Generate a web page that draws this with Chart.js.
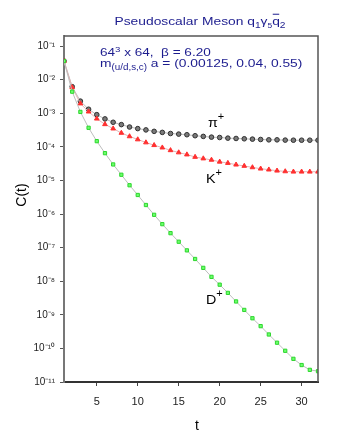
<!DOCTYPE html>
<html>
<head>
<meta charset="utf-8">
<script src="https://cdn.jsdelivr.net/npm/chart.js@4/dist/chart.umd.min.js"></script>
<style>
html,body{margin:0;padding:0;background:#fff;}
canvas{display:block;}
</style>
</head>
<body>
<canvas id="c" width="354" height="436"></canvas>
<script>
// ---- data ----
const tValues = [1,2,3,4,5,6,7,8,9,10,11,12,13,14,15,16,17,18,19,20,21,22,23,24,25,26,27,28,29,30,31,32];
const pionC = [3.6e-2,6.2e-3,2.3e-3,1.32e-3,9.1e-4,6.8e-4,5.4e-4,4.6e-4,3.9e-4,3.5e-4,3.2e-4,2.9e-4,2.7e-4,2.5e-4,2.4e-4,2.3e-4,2.15e-4,2.05e-4,1.95e-4,1.9e-4,1.82e-4,1.78e-4,1.74e-4,1.7e-4,1.66e-4,1.62e-4,1.62e-4,1.59e-4,1.58e-4,1.58e-4,1.58e-4,1.58e-4];
const kaonC = [3.6e-2,5.9e-3,1.95e-3,1.12e-3,6.9e-4,4.7e-4,3.5e-4,2.6e-4,2.05e-4,1.66e-4,1.35e-4,1.12e-4,9.5e-5,7.9e-5,6.8e-5,5.9e-5,5.0e-5,4.5e-5,4.1e-5,3.6e-5,3.3e-5,2.95e-5,2.7e-5,2.45e-5,2.24e-5,2.1e-5,1.95e-5,1.86e-5,1.82e-5,1.82e-5,1.82e-5,1.82e-5];
const dMesonC = [3.6e-2,4.4e-3,1.1e-3,3.7e-4,1.48e-4,6.5e-5,3.0e-5,1.48e-5,7.2e-6,3.7e-6,1.86e-6,9.5e-7,5.0e-7,2.7e-7,1.5e-7,8.3e-8,4.6e-8,2.5e-8,1.35e-8,7.9e-9,4.5e-9,2.5e-9,1.4e-9,7.9e-10,4.6e-10,2.6e-10,1.48e-10,8.5e-11,4.9e-11,3.2e-11,2.3e-11,2.1e-11];
const xTicks = [5,10,15,20,25,30];
const yTickExponents = [-1,-2,-3,-4,-5,-6,-7,-8,-9,-10,-11];
const seriesNames = ['π', 'K', 'D'];

const SUP = {'-':'⁻','0':'⁰','1':'¹','2':'²','3':'³','4':'⁴','5':'⁵','6':'⁶','7':'⁷','8':'⁸','9':'⁹'};
function sup(s){ return String(s).split('').map(c=>SUP[c]||c).join(''); }
function pts(arr){ return tValues.map((t,i)=>({x:t,y:arr[i]})); }

const FONT = '"Liberation Sans", Arial, sans-serif';
const NAVY = '#1c1c8e';

function drawRich(ctx, parts, x, y, align, sx){
  sx = sx || 1;
  let total = 0;
  parts.forEach(p=>{ ctx.font = p.size+'px '+FONT; p.w = ctx.measureText(p.text).width + (p.gap||0); total += p.w; });
  ctx.save();
  ctx.translate(align==='center' ? x - total*sx/2 : x, y);
  ctx.scale(sx, 1);
  let cx = 0;
  parts.forEach(p=>{
    ctx.font = p.size+'px '+FONT;
    ctx.fillText(p.text, cx, (p.dy||0));
    if(p.overline){
      ctx.fillRect(cx+0.5, -p.size*0.98, p.w-(p.gap||0)-1, 1);
    }
    cx += p.w;
  });
  ctx.restore();
}

const decor = {
  id:'decor',
  afterDraw(chart){
    const ctx = chart.ctx, a = chart.chartArea;
    ctx.save();
    // frame top/right
    ctx.strokeStyle = '#555';
    ctx.lineWidth = 1.5;
    ctx.beginPath();
    ctx.moveTo(a.left, a.top); ctx.lineTo(a.right, a.top); ctx.lineTo(a.right, a.bottom);
    ctx.stroke();
    ctx.textBaseline = 'alphabetic';
    ctx.textAlign = 'left';
    // title
    ctx.fillStyle = NAVY;
    drawRich(ctx, [
      {text:'Pseudoscalar Meson q', size:11.5},
      {text:'1', size:8.5, dy:3},
      {text:'γ', size:11.5},
      {text:'5', size:7, dy:3},
      {text:'q', size:11.5, overline:true},
      {text:'2', size:8.5, dy:3}
    ], 200, 25, 'center', 1.2);
    // annotations
    drawRich(ctx, [
      {text:'64', size:11.3},
      {text:'3', size:8, dy:-4.5},
      {text:' x 64,  β = 6.20', size:11.3}
    ], 100, 56, 'left', 1.2);
    drawRich(ctx, [
      {text:'m', size:11.5},
      {text:'(u/d,s,c)', size:8.2, dy:3},
      {text:' a = (0.00125, 0.04, 0.55)', size:11.5}
    ], 100, 67, 'left', 1.2);
    // series labels
    ctx.fillStyle = '#000';
    drawRich(ctx, [{text:seriesNames[0], size:13},{text:'+', size:10, dy:-7}], 208, 127, 'left', 1.1);
    drawRich(ctx, [{text:seriesNames[1], size:13},{text:'+', size:10, dy:-7}], 206, 183, 'left', 1.1);
    drawRich(ctx, [{text:seriesNames[2], size:13},{text:'+', size:10, dy:-7}], 206, 304, 'left', 1.1);
    // axis titles
    ctx.font = '14px '+FONT;
    ctx.textAlign = 'center';
    ctx.fillText('t', 197, 430);
    ctx.translate(26, 195);
    ctx.rotate(-Math.PI/2);
    ctx.fillText('C(t)', 0, 0);
    ctx.restore();
  }
};

const lineGray = '#bdbdbd';
new Chart(document.getElementById('c'), {
  type:'line',
  data:{
    datasets:[
      {label:'pi', order:3, data:pts(pionC), borderColor:lineGray, borderWidth:1, pointStyle:'circle', pointRadius:2.3, pointBackgroundColor:'#7a7a7a', pointBorderColor:'#303030', pointBorderWidth:1, tension:0},
      {label:'K', order:2, data:pts(kaonC), borderColor:'#e4b4b4', borderWidth:1, pointStyle:'triangle', pointRadius:2.7, pointBackgroundColor:'#ff3030', pointBorderColor:'#ff3030', pointBorderWidth:1, tension:0},
      {label:'D', order:1, data:pts(dMesonC), borderColor:lineGray, borderWidth:1, pointStyle:'rect', pointRadius:2.3, pointBackgroundColor:'#6cff6c', pointBorderColor:'#2ed62e', pointBorderWidth:1, tension:0}
    ]
  },
  options:{
    responsive:false,
    devicePixelRatio:1,
    animation:false,
    layout:{padding:{left:0,right:36,top:36,bottom:0}},
    plugins:{legend:{display:false}, tooltip:{enabled:false}, title:{display:false}},
    scales:{
      x:{
        type:'linear', min:1, max:32,
        afterBuildTicks(s){ s.ticks = xTicks.map(v=>({value:v})); },
        afterFit(s){ s.height = 54; },
        grid:{display:true, drawOnChartArea:false, drawTicks:true, tickLength:4, color:'#444'},
        border:{display:true, color:'#333', width:2},
        ticks:{color:'#222', font:{family:FONT, size:11}, padding:9, maxRotation:0}
      },
      y:{
        type:'logarithmic', min:1e-11, max:0.2,
        afterBuildTicks(s){ s.ticks = yTickExponents.map(e=>({value:Math.pow(10,e)})); },
        afterFit(s){ s.width = 64; },
        grid:{display:true, drawOnChartArea:false, drawTicks:true, tickLength:4, color:'#555'},
        border:{display:true, color:'#777', width:2},
        ticks:{color:'#222', font:{family:FONT, size:10}, padding:5,
          callback(v){ const e = Math.round(Math.log10(v)); return '10'+sup(e); }}
      }
    }
  },
  plugins:[decor]
});
</script>
</body>
</html>
